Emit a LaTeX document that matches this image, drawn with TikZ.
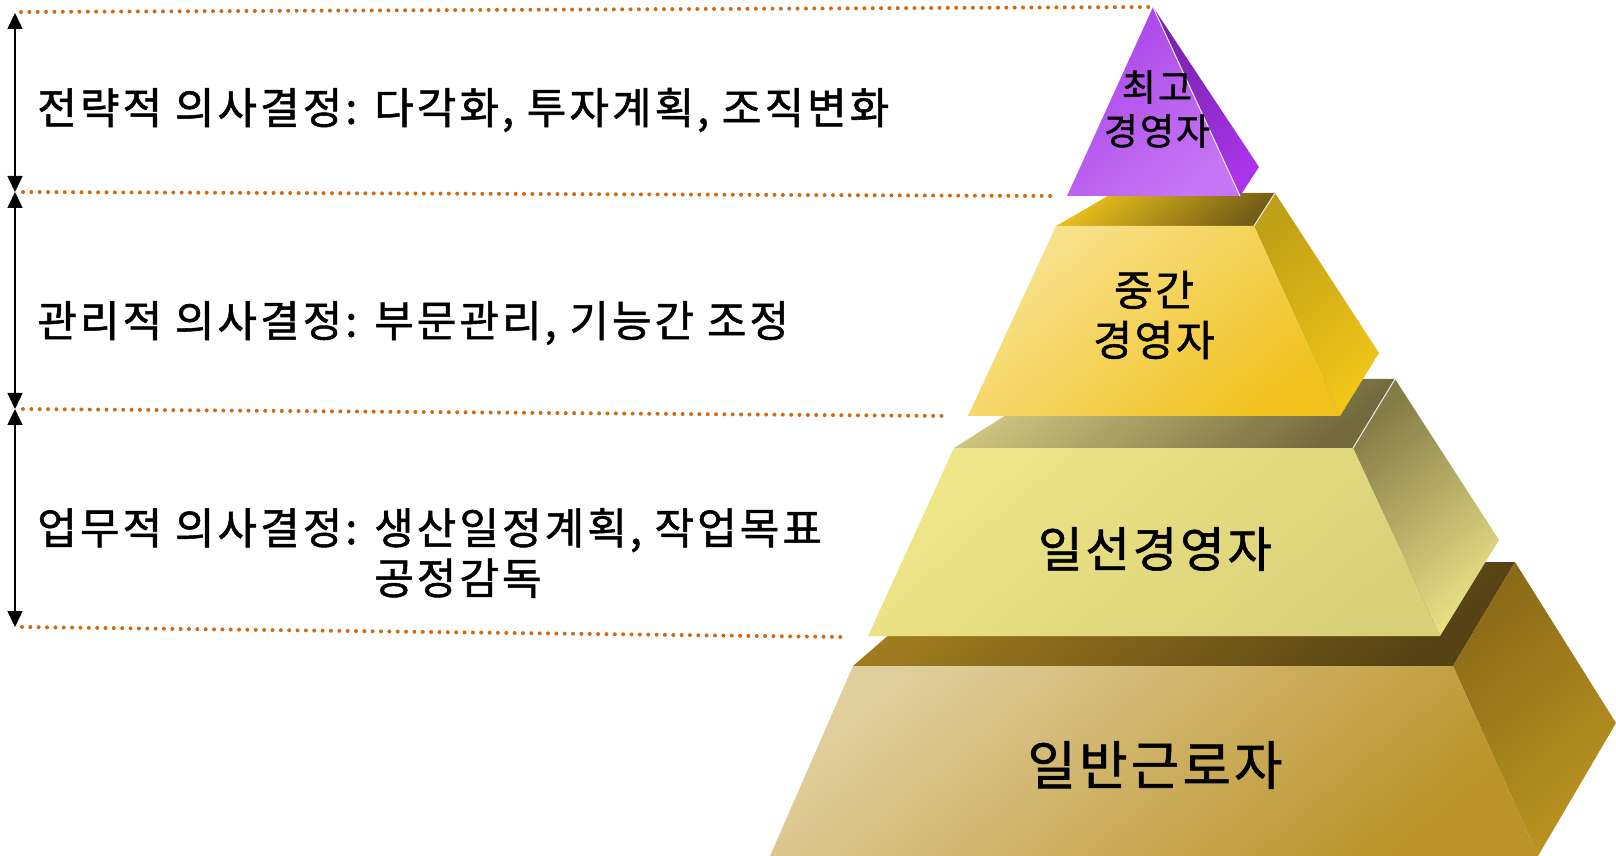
\documentclass[tikz,border=0pt]{standalone}
\usepackage{fontspec}
\setmainfont{Noto Sans CJK KR}[LetterSpace=6,FakeBold=1.2]
\usetikzlibrary{arrows.meta}

\definecolor{dotorange}{RGB}{208,106,20}
% top tier (purple)
\definecolor{purpA}{RGB}{170,68,232}
\definecolor{purpB}{RGB}{198,118,244}
\definecolor{purpC}{RGB}{118,34,172}
\definecolor{purpD}{RGB}{170,52,232}
% middle tier (gold)
\definecolor{goldA}{RGB}{248,226,144}
\definecolor{goldB}{RGB}{240,194,30}
\definecolor{goldC}{RGB}{234,192,28}
\definecolor{goldD}{RGB}{116,94,22}
\definecolor{goldE}{RGB}{192,160,22}
\definecolor{goldF}{RGB}{240,198,24}
% line tier (khaki)
\definecolor{khakiA}{RGB}{238,230,136}
\definecolor{khakiB}{RGB}{218,208,120}
\definecolor{khakiC}{RGB}{206,198,128}
\definecolor{khakiD}{RGB}{114,106,60}
\definecolor{khakiE}{RGB}{132,124,70}
\definecolor{khakiF}{RGB}{232,224,134}
% base tier (brown)
\definecolor{tanA}{RGB}{224,206,156}
\definecolor{tanB}{RGB}{186,146,40}
\definecolor{tanC}{RGB}{162,126,32}
\definecolor{tanD}{RGB}{86,66,20}
\definecolor{tanE}{RGB}{138,106,24}
\definecolor{tanF}{RGB}{186,148,32}

\begin{document}
\begin{tikzpicture}[x=0.2mm,y=-0.2mm,
    face/.style 2 args={top color=#1,bottom color=#2,shading angle=40},
    guide/.style={dotorange,line width=0.8mm,line cap=round,dash pattern=on 0pt off 1.67mm},
    spanarrow/.style={{Triangle[length=3.2mm,width=3mm]}-{Triangle[length=3.2mm,width=3mm]},line width=0.3mm},
    edge/.style={white!85!gray,line width=0.2mm},
    tier/.style={align=center,inner sep=0pt},
    decision/.style={anchor=west,align=left,inner sep=0pt,
        font=\addfontfeature{LetterSpace=7}\fontsize{24.5}{28.5}\selectfont}]
    \useasboundingbox (0,0) rectangle (1616,856);

    % base tier
    \shade[face={tanC}{tanD}] (853,666) -- (973,562) -- (1515,562) -- (1453,666) -- cycle;
    \shade[face={tanE}{tanF}] (1453,666) -- (1515,562) -- (1616,723) -- (1538,856) -- cycle;
    \shade[face={tanA}{tanB}] (853,666) -- (1453,666) -- (1538,856) -- (770,856) -- cycle;

    % line managers
    \shade[face={khakiC}{khakiD}] (954,448) -- (1063,379) -- (1395,379) -- (1353,448) -- cycle;
    \shade[face={khakiE}{khakiF}] (1353,448) -- (1395,379) -- (1499,540) -- (1440,636) -- cycle;
    \shade[face={khakiA}{khakiB}] (954,448) -- (1353,448) -- (1440,636) -- (868,636) -- cycle;
    \draw[edge] (1353,448) -- (1395,379);

    % middle managers
    \shade[face={goldC}{goldD}] (1056,226) -- (1113,193) -- (1275,193) -- (1254,226) -- cycle;
    \shade[face={goldE}{goldF}] (1254,226) -- (1275,193) -- (1379,353) -- (1340,416) -- cycle;
    \shade[face={goldA}{goldB}] (1056,226) -- (1254,226) -- (1340,416) -- (968,416) -- cycle;
    \draw[edge] (1254,226) -- (1275,193);

    % top managers
    \shade[face={purpC}{purpD}] (1153,7) -- (1259,167) -- (1240,196) -- cycle;
    \shade[face={purpA}{purpB}] (1153,7) -- (1240,196) -- (1067,196) -- cycle;
    \draw[edge] (1153,7) -- (1240,196);

    % tier labels
    \node[tier,font=\fontsize{21}{25}\selectfont] (ceo) at (1157,109) {최고\\경영자};
    \node[tier,font=\fontsize{24}{28.5}\selectfont] (middle) at (1154,315) {중간\\경영자};
    \node[tier,font=\fontsize{27.5}{30}\selectfont] (linemgr) at (1155,549) {일선경영자};
    \node[tier,font=\fontsize{30}{32}\selectfont] (worker) at (1155,765) {일반근로자};

    % guide lines
    \coordinate (g0) at (21,12);   \coordinate (apex) at (1153,7);
    \coordinate (g1) at (23,192);  \coordinate (h1) at (1058,196);
    \coordinate (g2) at (23,409);  \coordinate (h2) at (949,416);
    \coordinate (g3) at (22,627);  \coordinate (h3) at (841,637);
    \draw[guide] (g0) -- (apex);
    \draw[guide] (g1) -- (h1);
    \draw[guide] (g2) -- (h2);
    \draw[guide] (g3) -- (h3);

    % spans of decision levels
    \coordinate (t0) at (15,13);
    \coordinate (t1) at (15,192);
    \coordinate (t2) at (15,409);
    \coordinate (t3) at (15,627);
    \draw[spanarrow] (t0) -- (t1);
    \draw[spanarrow] (t1) -- (t2);
    \draw[spanarrow] (t2) -- (t3);

    % decision labels
    \node[decision] (strategic) at (37,110) {전략적 의사결정: 다각화, 투자계획, 조직변화};
    \node[decision] (managerial) at (37,323) {관리적 의사결정: 부문관리, 기능간 조정};
    \node[decision] (operational) at (37,553)
        {업무적 의사결정: 생산일정계획, 작업목표\\\hphantom{업무적 의사결정: }공정감독};
\end{tikzpicture}
\end{document}
